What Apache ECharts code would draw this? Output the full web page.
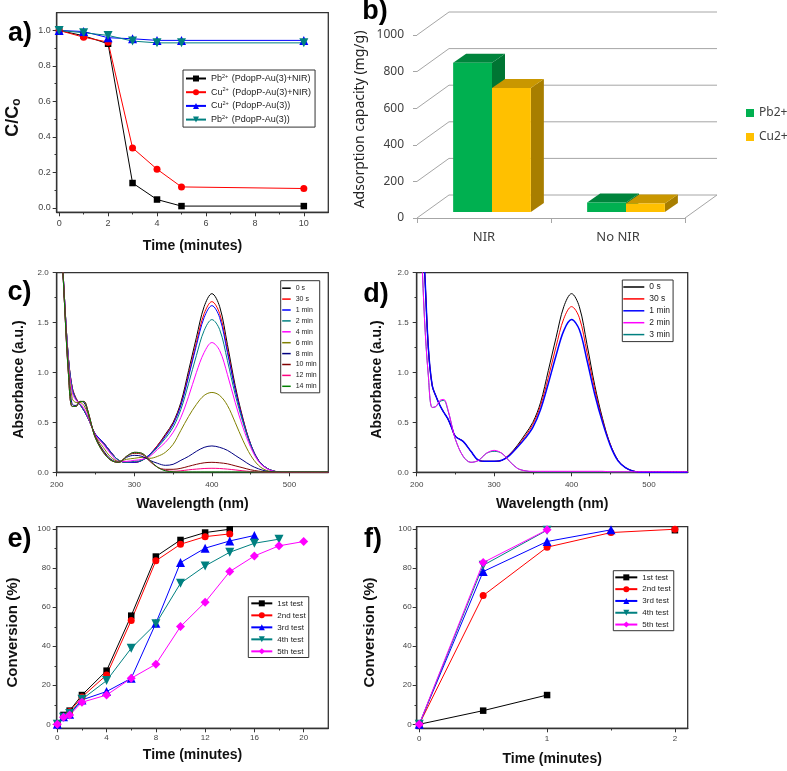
<!DOCTYPE html>
<html><head><meta charset="utf-8">
<script src="https://cdn.jsdelivr.net/npm/echarts@6/dist/echarts.min.js"></script>
<style>html,body{margin:0;padding:0;background:#fff}#c{width:787px;height:771px}</style>
</head><body><div id="c"></div>
<script>
// ---------------- DATA ----------------
// (a) removal vs time
const aTime = [0, 1, 2, 3, 4, 5, 10];
const aPbNIR = [1.0, 0.97, 0.925, 0.14, 0.047, 0.01, 0.01];
const aCuNIR = [1.0, 0.962, 0.934, 0.338, 0.218, 0.118, 0.109];
const aCu = [1.0, 0.994, 0.959, 0.953, 0.944, 0.944, 0.944];
const aPb = [1.0, 0.987, 0.972, 0.94, 0.93, 0.93, 0.93];
const aNames = ['Pb2+ (PdopP-Au(3)+NIR)', 'Cu2+ (PdopP-Au(3)+NIR)', 'Cu2+ (PdopP-Au(3))', 'Pb2+ (PdopP-Au(3))'];
const aXTicks = [0, 2, 4, 6, 8, 10], aXMinor = [1, 3, 5, 7, 9];
const aYTicks = [0, 0.2, 0.4, 0.6, 0.8, 1.0], aYMinor = [0.1, 0.3, 0.5, 0.7, 0.9];

// (b) adsorption capacity
const bCats = ['NIR', 'No NIR'];
const bPb = [815, 52];
const bCu = [678, 46];
const bNames = ['Pb2+', 'Cu2+'];
const bTicks = [0, 200, 400, 600, 800, 1000];

// (c),(d) UV-vis spectra
const wl = [205,210,215,220,225,230,235,240,245,250,260,270,280,290,300,310,320,330,340,350,360,370,380,390,400,410,420,430,440,450,460,470,480,490,500,550];
const cNames = ['0 s', '30 s', '1 min', '2 min', '4 min', '6 min', '8 min', '10 min', '12 min', '14 min'];
const c0s  = [2.5,1.75,1.15,0.85,0.74,0.68,0.62,0.55,0.46,0.38,0.3,0.2,0.12,0.1,0.1,0.12,0.18,0.27,0.38,0.5,0.7,1.02,1.35,1.66,1.79,1.66,1.28,0.87,0.54,0.28,0.12,0.045,0.012,0,0,0];
const c30s = [2.5,1.75,1.15,0.85,0.74,0.68,0.62,0.55,0.46,0.38,0.3,0.2,0.12,0.1,0.1,0.12,0.18,0.27,0.37,0.49,0.68,0.98,1.3,1.59,1.71,1.59,1.23,0.84,0.53,0.28,0.12,0.045,0.012,0,0,0];
const c1m  = [2.5,1.75,1.15,0.84,0.73,0.68,0.62,0.55,0.46,0.38,0.3,0.2,0.12,0.1,0.1,0.12,0.18,0.26,0.36,0.48,0.67,0.96,1.27,1.55,1.67,1.55,1.2,0.83,0.52,0.28,0.12,0.045,0.012,0,0,0];
const c2m  = [2.5,1.75,1.15,0.83,0.73,0.68,0.62,0.55,0.46,0.37,0.29,0.19,0.12,0.1,0.11,0.12,0.17,0.25,0.34,0.45,0.63,0.89,1.17,1.42,1.53,1.43,1.12,0.78,0.5,0.27,0.115,0.045,0.012,0,0,0];
const c4m  = [2.5,1.75,1.12,0.8,0.72,0.69,0.64,0.56,0.46,0.37,0.28,0.18,0.11,0.11,0.12,0.13,0.16,0.23,0.3,0.4,0.55,0.76,1.0,1.2,1.3,1.22,0.98,0.7,0.45,0.25,0.11,0.04,0.01,0,0,0];
const c6m  = [2.5,1.72,1.08,0.74,0.7,0.7,0.67,0.59,0.46,0.36,0.25,0.15,0.11,0.13,0.14,0.15,0.14,0.16,0.2,0.28,0.42,0.56,0.68,0.77,0.8,0.77,0.67,0.5,0.32,0.17,0.07,0.02,0.005,0,0,0];
const c8m  = [2.5,1.7,1.03,0.68,0.67,0.71,0.7,0.61,0.47,0.35,0.22,0.13,0.1,0.15,0.17,0.16,0.12,0.09,0.07,0.08,0.12,0.16,0.21,0.25,0.264,0.25,0.22,0.17,0.12,0.07,0.035,0.012,0.003,0,0,0];
const c10m = [2.5,1.7,1.0,0.66,0.66,0.71,0.71,0.62,0.47,0.35,0.21,0.12,0.1,0.16,0.19,0.18,0.11,0.05,0.03,0.03,0.04,0.06,0.08,0.095,0.1,0.095,0.085,0.065,0.045,0.025,0.012,0.004,0,0,0,0];
const c12m = [2.5,1.7,1.0,0.66,0.66,0.71,0.71,0.62,0.47,0.34,0.2,0.12,0.1,0.16,0.2,0.19,0.12,0.05,0.02,0.01,0.015,0.025,0.032,0.038,0.04,0.038,0.032,0.024,0.015,0.008,0.003,0,0,0,0,0];
const c14m = [2.5,1.7,1.0,0.66,0.66,0.71,0.71,0.62,0.47,0.34,0.2,0.12,0.1,0.16,0.2,0.19,0.12,0.05,0.015,0.005,0.003,0.003,0.003,0.003,0.003,0.003,0.003,0.003,0.003,0.003,0.003,0.003,0.003,0.003,0.003,0.003];
const dNames = ['0 s', '30 s', '1 min', '2 min', '3 min'];
const d0s  = [2.6,2.05,1.25,0.87,0.76,0.67,0.6,0.54,0.45,0.36,0.31,0.21,0.12,0.11,0.11,0.12,0.18,0.27,0.38,0.5,0.7,1.02,1.35,1.66,1.79,1.66,1.28,0.87,0.54,0.28,0.12,0.045,0.012,0,0,0];
const d30s = [2.6,2.05,1.25,0.87,0.76,0.67,0.6,0.54,0.45,0.36,0.31,0.21,0.12,0.11,0.11,0.12,0.18,0.26,0.36,0.48,0.67,0.95,1.26,1.54,1.66,1.55,1.2,0.83,0.52,0.28,0.12,0.045,0.012,0,0,0];
const d1m  = [2.6,2.05,1.25,0.87,0.76,0.67,0.6,0.54,0.45,0.36,0.31,0.21,0.12,0.11,0.11,0.12,0.17,0.25,0.34,0.45,0.63,0.89,1.17,1.42,1.53,1.43,1.12,0.78,0.5,0.27,0.115,0.045,0.012,0,0,0];
const d2m  = [2.5,1.55,0.97,0.65,0.66,0.72,0.73,0.64,0.48,0.33,0.16,0.1,0.12,0.19,0.22,0.19,0.11,0.04,0.015,0.01,0.01,0.01,0.01,0.01,0.01,0.01,0.01,0.01,0.01,0.005,0.005,0.005,0.005,0.005,0.005,0.005];
const d3m  = [2.5,1.55,0.97,0.65,0.66,0.71,0.72,0.63,0.48,0.33,0.16,0.1,0.12,0.19,0.21,0.19,0.11,0.04,0.015,0.005,0.003,0.003,0.003,0.003,0.003,0.003,0.003,0.003,0.003,0.003,0.003,0.003,0.003,0.003,0.003,0.003];
const cXTicks = [200, 300, 400, 500], cXMinor = [250, 350, 450];
const cYTicks = [0, 0.5, 1.0, 1.5, 2.0], cYMinor = [0.25, 0.75, 1.25, 1.75];

// (e),(f) conversion
const testNames = ['1st test', '2nd test', '3rd test', '4th test', '5th test'];
const eTime = [0, 0.5, 1, 2, 4, 6, 8, 10, 12, 14, 16, 18, 20];
const e1 = [0, 4.8, 7, 15, 27.5, 55.7, 86, 94.5, 98.3, 100];
const e2 = [0, 4, 6.5, 14, 25.3, 53.2, 83.8, 92.3, 96.2, 97.6];
const e3 = [0, 3.9, 5.1, 12.5, 16.8, 23.6, 51.8, 82.9, 90.3, 94, 96.8];
const e4 = [0, 3.6, 5.6, 12.8, 22.4, 39, 51.5, 72.3, 81.2, 88.2, 92.8, 94.9];
const e5 = [0, 3.6, 4.8, 11.3, 15, 23.6, 30.8, 50.1, 62.6, 78.3, 86.3, 91.5, 93.7];
const fTime = [0, 0.5, 1, 1.5, 2];
const f1 = [0, 7, 15, null, 99.5];
const f2 = [0, 66, 90.8, 98.3, 100];
const f3 = [0, 78.3, 93.7, 99.7];
const f4 = [0, 81.5, 99.5];
const f5 = [0, 82.9, 99.7];
const eXTicks = [0, 4, 8, 12, 16, 20], eXMinor = [2, 6, 10, 14, 18];
const fXTicks = [0, 1, 2], fXMinor = [0.5, 1.5];
const convTicks = [0, 20, 40, 60, 80, 100], convMinor = [10, 30, 50, 70, 90];

// ---------------- CHART ----------------
const F = '"Liberation Sans", Arial, sans-serif';
const AX = '#333';
const chart = echarts.init(document.getElementById('c'), null, {renderer: 'canvas'});
const ZW = '\u200b';
const uniq = (n, k) => n + ZW.repeat(k);
const strip = n => n.replace(/\u200b/g, '');

const xAxes = [], yAxes = [];
function originAxes(list, gi, dim, min, max, major, minor, fmt, name, gap, nameStyle, margin, fs) {
  const common = {gridIndex: gi, type: 'value', min: min, max: max, splitLine: {show: false},
    position: dim === 'x' ? 'bottom' : 'left'};
  const main = Object.assign({}, common, {
    axisLine: {show: true, onZero: false, lineStyle: {color: AX, width: 1.3}},
    axisTick: {show: true, inside: false, length: 4, customValues: major, lineStyle: {color: AX, width: 1}},
    axisLabel: {show: true, customValues: major, formatter: fmt, margin: margin, fontSize: fs, color: '#444', fontFamily: F},
    name: name, nameLocation: 'middle', nameGap: gap, nameTextStyle: nameStyle
  });
  const mn = Object.assign({}, common, {
    axisLine: {show: false, onZero: false},
    axisTick: {show: true, inside: false, length: 2.2, customValues: minor, lineStyle: {color: AX, width: 1}},
    axisLabel: {show: false}
  });
  list.push(main); const idx = list.length - 1; list.push(mn);
  return idx;
}
const nameX = {fontFamily: F, fontWeight: 'bold', fontSize: 14, color: '#111'};
const nameY = (pad, fs) => ({fontFamily: F, fontWeight: 'bold', fontSize: fs || 14, color: '#111', padding: pad});
const f1d = v => v.toFixed(1), f0 = v => String(v);

const grids = [
  {left: 56.7, top: 12.7, width: 271.6, height: 199.6},
  {left: 56.7, top: 272.7, width: 271.6, height: 199.6},
  {left: 416.7, top: 272.7, width: 271, height: 199.6},
  {left: 56.7, top: 526.7, width: 271.6, height: 201.6},
  {left: 416.7, top: 526.7, width: 271, height: 201.6},
  {left: 417, top: 35, width: 268, height: 183}
].map((g, i) => Object.assign(g, i < 5 ? {show: true, borderColor: AX, borderWidth: 1.3, backgroundColor: 'transparent'} : {show: false}));

// a
const axA = originAxes(xAxes, 0, 'x', -0.1, 11, aXTicks, aXMinor, f0, 'Time (minutes)', 27, nameX, 7, 9);
const ayA = originAxes(yAxes, 0, 'y', -0.025, 1.1, aYTicks, aYMinor, f1d, 'C/C{s|o}', 34,
  Object.assign(nameY([0, 10, 0, 0], 18), {rich: {s: {fontSize: 12, fontWeight: 'bold', fontFamily: F, padding: [8, 0, 0, 0]}}}), 6, 9);
// c
const axC = originAxes(xAxes, 1, 'x', 200, 550, cXTicks, cXMinor, f0, 'Wavelength (nm)', 25, nameX, 8, 8);
const ayC = originAxes(yAxes, 1, 'y', 0, 2, cYTicks, cYMinor, f1d, 'Absorbance (a.u.)', 31, nameY([0, 14, 0, 0]), 8, 8);
// d
const axD = originAxes(xAxes, 2, 'x', 200, 550, cXTicks, cXMinor, f0, 'Wavelength (nm)', 25, nameX, 8, 8);
const ayD = originAxes(yAxes, 2, 'y', 0, 2, cYTicks, cYMinor, f1d, 'Absorbance (a.u.)', 33, nameY([0, 14, 0, 0]), 8, 8);
// e
const axE = originAxes(xAxes, 3, 'x', -0.05, 22, eXTicks, eXMinor, f0, 'Time (minutes)', 20, nameX, 5, 8);
const ayE = originAxes(yAxes, 3, 'y', -2.05, 101.3, convTicks, convMinor, f0, 'Conversion (%)', 36, nameY([0, 10, 0, 0], 15), 6, 8);
// f
const axF = originAxes(xAxes, 4, 'x', -0.02, 2.1, fXTicks, fXMinor, f0, 'Time (minutes)', 24, nameX, 6, 8);
const ayF = originAxes(yAxes, 4, 'y', -2.05, 101.3, convTicks, convMinor, f0, 'Conversion (%)', 39, nameY([0, 10, 0, 0], 15), 5, 8);
// b
xAxes.push({gridIndex: 5, type: 'category', data: bCats, boundaryGap: true,
  axisLine: {show: true, lineStyle: {color: '#a6a6a6', width: 1}},
  axisTick: {show: true, inside: false, length: 5, alignWithLabel: false, lineStyle: {color: '#a6a6a6'}},
  axisLabel: {margin: 13, fontSize: 13, color: '#404040', fontFamily: '"Noto Sans", sans-serif'}});
const axB = xAxes.length - 1;
yAxes.push({gridIndex: 5, type: 'value', min: 0, max: 1000, interval: 200,
  axisLine: {show: false}, splitLine: {show: false},
  axisTick: {show: true, inside: false, length: 4, lineStyle: {color: '#a6a6a6'}},
  axisLabel: {margin: 13, fontSize: 12, color: '#404040', fontFamily: '"Noto Sans", sans-serif', formatter: v => String(v)},
  name: 'Adsorption capacity (mg/g)', nameLocation: 'middle', nameGap: 50,
  nameTextStyle: {fontSize: 14, color: '#222', fontFamily: '"Noto Sans", sans-serif', padding: [0, 0, 0, 14]}});
const ayB = yAxes.length - 1;

const series = [];
function lineS(name, xi, yi, xs, ys, st) {
  series.push({type: 'line', name: name, xAxisIndex: xi, yAxisIndex: yi,
    data: ys.map((v, i) => [xs[i], v == null ? '-' : v]),
    symbol: st.symbol || 'none', symbolSize: st.size || 6, symbolRotate: st.rot || 0,
    showSymbol: !!st.symbol, smooth: st.smooth || false, connectNulls: false,
    lineStyle: {color: st.color, width: st.width || 1}, itemStyle: {color: st.color},
    animation: false});
}
// a series
const mk = [
  {color: '#000000', symbol: 'rect', size: 6.5},
  {color: '#FF0000', symbol: 'circle', size: 7},
  {color: '#0000FF', symbol: 'triangle', size: 9},
  {color: '#008080', symbol: 'triangle', size: 9, rot: 180},
  {color: '#FF00FF', symbol: 'diamond', size: 9}
];
[aPbNIR, aCuNIR, aCu, aPb].forEach((ys, i) => lineS(uniq(aNames[i], 1), axA, ayA, aTime, ys, mk[i]));
// c series
const cCols = ['#000000', '#FF0000', '#0000FF', '#008080', '#FF00FF', '#808000', '#000080', '#800000', '#FF0080', '#008000'];
[c0s, c30s, c1m, c2m, c4m, c6m, c8m, c10m, c12m, c14m].forEach((ys, i) =>
  lineS(uniq(cNames[i], 2), axC, ayC, wl, ys, {color: cCols[i], smooth: 0.35, width: 1}));
// d series (teal drawn first, under magenta)
const dCols = ['#000000', '#FF0000', '#0000FF', '#FF00FF', '#008080'];
const dData = [d0s, d30s, d1m, d2m, d3m];
[4, 0, 1, 2, 3].forEach(i => lineS(uniq(dNames[i], 3), axD, ayD, wl, dData[i], {color: dCols[i], smooth: 0.35, width: i === 2 ? 1.5 : 1}));
// e series
[e1, e2, e3, e4, e5].forEach((ys, i) => lineS(uniq(testNames[i], 4), axE, ayE, eTime, ys, mk[i]));
// f series
[f1, f2, f3, f4, f5].forEach((ys, i) => lineS(uniq(testNames[i], 5), axF, ayF, fTime, ys, mk[i]));

// b: 3D walls + bars
const WDX = 32, WDY = -23;           // wall depth projection
const FDX = 8, FDY = -6, DDX = 13, DDY = -9; // bar front offset and depth
series.push({type: 'custom', name: 'walls', xAxisIndex: axB, yAxisIndex: ayB, silent: true, z: 1,
  data: bTicks.map(v => [0, v]),
  renderItem: function (params, api) {
    const cs = params.coordSys;
    const y = api.coord([0, api.value(1)])[1];
    const st = {stroke: '#a6a6a6', lineWidth: 1, fill: null};
    const ch = [{type: 'polyline', shape: {points: [[cs.x, y], [cs.x + WDX, y + WDY], [cs.x + cs.width + WDX, y + WDY]]}, style: st}];
    if (api.value(1) === 0) ch.push({type: 'line', shape: {x1: cs.x + cs.width, y1: y, x2: cs.x + cs.width + WDX, y2: y + WDY}, style: st});
    return {type: 'group', children: ch};
  }});
function bar3d(name, k, vals, front, top, side) {
  series.push({type: 'custom', name: name, xAxisIndex: axB, yAxisIndex: ayB, z: 3,
    itemStyle: {color: front},
    data: vals.map((v, i) => [i, v]),
    renderItem: function (params, api) {
      const base = api.coord([api.value(0), 0]);
      const tp = api.coord([api.value(0), api.value(1)]);
      const w = api.size([1, 0])[0] * 0.29;
      const x0 = base[0] - w + k * w + FDX;
      const yb = base[1] + FDY, yt = tp[1] + FDY;
      return {type: 'group', children: [
        {type: 'polygon', shape: {points: [[x0 + w, yt], [x0 + w + DDX, yt + DDY], [x0 + w + DDX, yb + DDY], [x0 + w, yb]]}, style: {fill: side}},
        {type: 'polygon', shape: {points: [[x0, yt], [x0 + w, yt], [x0 + w + DDX, yt + DDY], [x0 + DDX, yt + DDY]]}, style: {fill: top}},
        {type: 'rect', shape: {x: x0, y: yt, width: w, height: yb - yt}, style: {fill: front}}
      ]};
    }});
}
bar3d(bNames[0], 0, bPb, '#00B050', '#00843C', '#007533');
bar3d(bNames[1], 1, bCu, '#FFC000', '#C99700', '#A87E00');

// legends
function supFmt(n) {
  n = strip(n);
  const m = n.match(/^([A-Za-z]+)2\+(.*)$/);
  return m ? '{n|' + m[1] + '}{s|2+}{n|' + m[2] + '}' : n;
}
const legBase = {orient: 'vertical', borderColor: '#333', borderWidth: 1, backgroundColor: '#fff', selectedMode: false, align: 'left'};
const legends = [
  Object.assign({}, legBase, {left: 183, top: 70, padding: [3, 4, 2, 2], itemWidth: 20, itemHeight: 7.5, itemGap: 2.7,
    data: aNames.map(n => uniq(n, 1)), formatter: supFmt,
    textStyle: {fontSize: 9, lineHeight: 11, color: '#222', fontFamily: F,
      rich: {n: {fontSize: 9, lineHeight: 11, fontFamily: F, color: '#222'}, s: {fontSize: 5.5, lineHeight: 11, verticalAlign: 'top', fontFamily: F, color: '#222', padding: [0, 1, 4, 0]}}}}),
  Object.assign({}, legBase, {left: 280.7, top: 280.7, padding: [3, 3, 2, 1.5], itemWidth: 8.5, itemHeight: 1.5, itemGap: 1.9,
    data: cNames.map(n => ({name: uniq(n, 2), icon: 'rect'})), formatter: strip,
    textStyle: {fontSize: 7, lineHeight: 9, color: '#222', fontFamily: F}}),
  Object.assign({}, legBase, {left: 622.3, top: 280, padding: [2, 3, 2, 1], itemWidth: 21, itemHeight: 1.5, itemGap: 1.9,
    data: dNames.map(n => ({name: uniq(n, 3), icon: 'rect'})), formatter: strip,
    textStyle: {fontSize: 8.5, lineHeight: 10, color: '#222', fontFamily: F}}),
  Object.assign({}, legBase, {left: 248.3, top: 596.7, padding: [1.5, 3, 1, 2], itemWidth: 21, itemHeight: 7.5, itemGap: 1.7,
    data: testNames.map(n => uniq(n, 4)), formatter: strip,
    textStyle: {fontSize: 8, lineHeight: 10.3, color: '#222', fontFamily: F}}),
  Object.assign({}, legBase, {left: 613.3, top: 570.7, padding: [1.5, 3, 1, 1], itemWidth: 22, itemHeight: 7.5, itemGap: 1.5,
    data: testNames.map(n => uniq(n, 5)), formatter: strip,
    textStyle: {fontSize: 8, lineHeight: 10.3, color: '#222', fontFamily: F}}),
  {orient: 'vertical', left: 746, top: 106, padding: 0, itemWidth: 8, itemHeight: 8, itemGap: 10, selectedMode: false,
    data: bNames.map(n => ({name: n, icon: 'rect'})),
    textStyle: {fontSize: 12, lineHeight: 14, color: '#404040', fontFamily: '"Noto Sans", sans-serif'}}
];

const letters = [['a)', 20, 34], ['b)', 375, 12], ['c)', 19.5, 293], ['d)', 376, 295], ['e)', 19.5, 540], ['f)', 373, 540]];
const graphic = letters.map(l => ({type: 'text', x: l[1], y: l[2], z: 10,
  style: {text: l[0], fontFamily: F, fontWeight: 'bold', fontSize: 27, fill: '#000', align: 'center', verticalAlign: 'middle'}}));

chart.setOption({
  animation: false,
  backgroundColor: '#fff',
  textStyle: {fontFamily: F},
  grid: grids,
  xAxis: xAxes,
  yAxis: yAxes,
  legend: legends,
  graphic: graphic,
  series: series
});
</script></body></html>
